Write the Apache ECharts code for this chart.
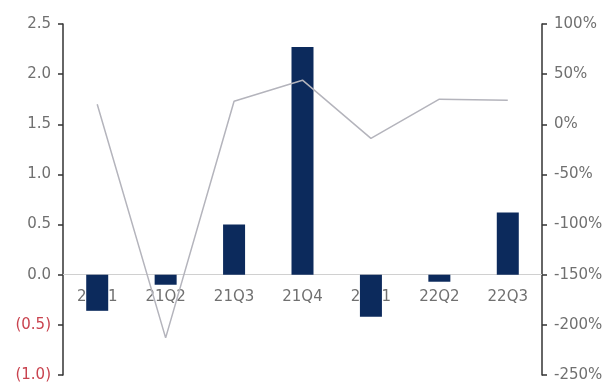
<!DOCTYPE html>
<html>
<head>
<meta charset="utf-8">
<script src="https://cdn.jsdelivr.net/npm/echarts@6/dist/echarts.min.js"></script>
<style>
  html, body { margin: 0; padding: 0; background: #fff; }
  #chart { width: 605px; height: 385px; }
</style>
</head>
<body>
<div id="chart"></div>
<script>
// quarters
var quarters = ['21Q1', '21Q2', '21Q3', '21Q4', '22Q1', '22Q2', '22Q3'];
// bars, left axis
var barValues = [-0.36, -0.1, 0.5, 2.27, -0.42, -0.07, 0.62];
// line, right axis (%)
var lineValues = [20, -213, 23, 44, -14, 25, 24];

var myChart = echarts.init(document.getElementById('chart'));

var axisText = '#707070';
var axisDark = '#333';
var font = 'DejaVu Sans, sans-serif';

myChart.setOption({
    animation: false,
    grid: { left: 63, right: 63, top: 24, bottom: 10, containLabel: false, outerBoundsMode: 'none' },
    xAxis: {
        type: 'category',
        data: quarters,
        axisLine: { onZero: true, onZeroAxisIndex: 0, lineStyle: { color: '#d0d0d0', width: 1 } },
        axisTick: { show: false },
        // labels stay at the grid bottom, pull them up under the zero line
        axisLabel: {
            color: axisText,
            fontSize: 15,
            fontFamily: font,
            margin: -85
        }
    },
    yAxis: [{
        type: 'value',
        min: -1,
        max: 2.5,
        interval: 0.5,
        splitLine: { show: false },
        axisLine: { show: true, lineStyle: { color: axisDark, width: 1.5 } },
        axisTick: { show: true, length: 5, lineStyle: { color: axisDark, width: 1.5 } },
        axisLabel: {
            fontSize: 15,
            fontFamily: font,
            margin: 12,
            formatter: function (v) {
                if (v < 0) return '{neg|(' + Math.abs(v).toFixed(1) + ')}';
                return '{pos|' + v.toFixed(1) + '}';
            },
            rich: {
                pos: { color: axisText, fontSize: 15, fontFamily: font },
                neg: { color: '#c9434f', fontSize: 15, fontFamily: font }
            }
        }
    }, {
        type: 'value',
        min: -250,
        max: 100,
        interval: 50,
        splitLine: { show: false },
        axisLine: { show: true, lineStyle: { color: axisDark, width: 1.5 } },
        axisTick: { show: true, length: 5, lineStyle: { color: axisDark, width: 1.5 } },
        axisLabel: {
            color: axisText,
            fontSize: 15,
            fontFamily: font,
            margin: 12,
            formatter: '{value}%'
        }
    }],
    series: [{
        type: 'bar',
        data: barValues,
        barWidth: 22,
        itemStyle: { color: '#0c2a5c' },
        z: 2
    }, {
        type: 'line',
        yAxisIndex: 1,
        data: lineValues,
        symbol: 'none',
        lineStyle: { color: '#b4b4bc', width: 1.5 },
        z: 3
    }]
});
</script>
</body>
</html>
